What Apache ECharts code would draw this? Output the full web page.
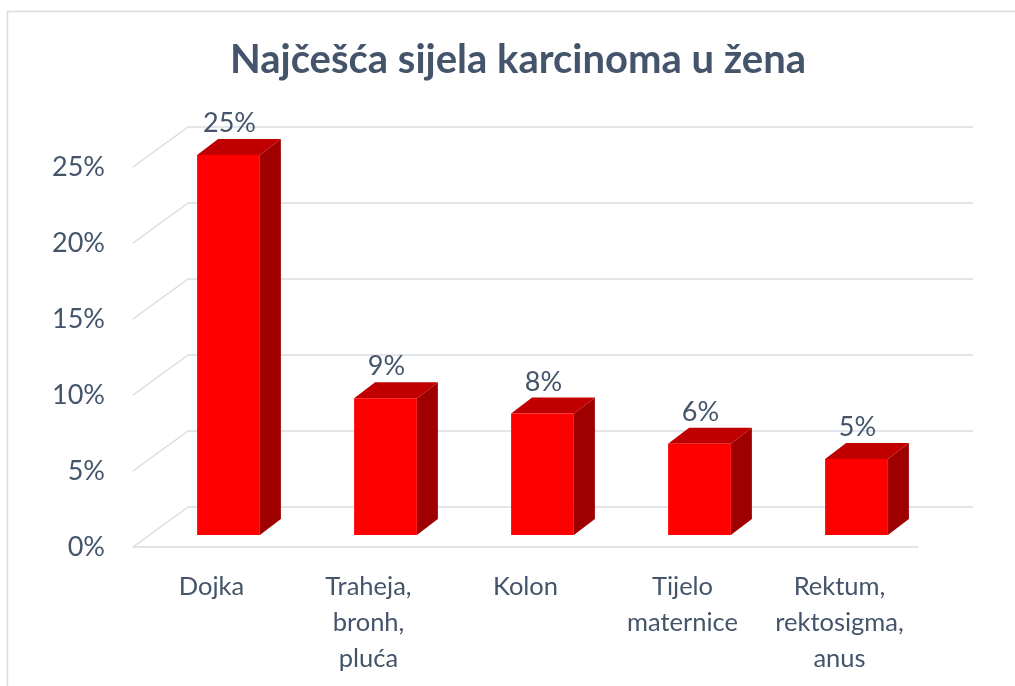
<!DOCTYPE html>
<html>
<head>
<meta charset="utf-8">
<script src="https://cdn.jsdelivr.net/npm/echarts@6/dist/echarts.min.js"></script>
<style>html,body{margin:0;padding:0;background:#fff}#c{width:1015px;height:686px}</style>
</head>
<body>
<div id="c"></div>
<script>
const title = 'Najčešća sijela karcinoma u žena';
const categories = ['Dojka', 'Traheja,\nbronh,\npluća', 'Kolon', 'Tijelo\nmaternice', 'Rektum,\nrektosigma,\nanus'];
const values = [25, 9, 8, 6, 5];
const yTicks = [0, 5, 10, 15, 20, 25];

const FONT = 'Lato, "Open Sans", sans-serif';
const TXT = '#44546A';
const GRID = '#D9DCE2';
// 3D offsets (style constants)
const WALL_DX = 55, WALL_DY = -40;   // front plane -> back wall
const BAR_DX = 17, BAR_DY = -12;     // front plane -> bar front face
const DEP_DX = 21, DEP_DY = -16;     // bar depth

const chart = echarts.init(document.getElementById('c'), null, {renderer: 'canvas'});
chart.setOption({
  animation: false,
  backgroundColor: '#fff',
  title: {
    text: title, left: 513, top: 35, textAlign: 'center',
    textStyle: {fontFamily: FONT, fontWeight: 'bold', fontSize: 40, color: TXT}
  },
  graphic: [{
    type: 'rect', shape: {x: 7.5, y: 11.5, width: 1020, height: 700}, silent: true,
    style: {fill: 'none', stroke: '#D9DCE2', lineWidth: 1.5}, z: -10
  }],
  grid: [
    {left: 133, right: 97, top: 167, bottom: 139},          // front plane
    {left: 133 + WALL_DX, right: 97 - WALL_DX, top: 167 + WALL_DY, bottom: 139 - WALL_DY} // back wall
  ],
  xAxis: [
    {type: 'category', gridIndex: 0, data: categories,
     axisLine: {show: true, lineStyle: {color: GRID, width: 1.5}},
     axisTick: {show: false},
     axisLabel: {interval: 0, margin: 22, fontFamily: FONT, fontSize: 25.5, color: TXT, lineHeight: 36}},
    {type: 'category', gridIndex: 1, data: categories, show: false}
  ],
  yAxis: [
    {type: 'value', gridIndex: 0, min: 0, max: 25, interval: 5,
     axisLine: {show: false}, axisTick: {show: false}, splitLine: {show: false},
     axisLabel: {margin: 28, fontFamily: FONT, fontSize: 27, color: TXT, formatter: v => v + '%'}},
    {type: 'value', gridIndex: 1, min: 0, max: 25, interval: 5,
     axisLine: {show: false}, axisTick: {show: false}, axisLabel: {show: false},
     splitLine: {show: true, lineStyle: {color: GRID, width: 1.5}}}
  ],
  series: [
    {
      type: 'custom', xAxisIndex: 0, yAxisIndex: 0, silent: true, z: 1,
      data: yTicks.map(v => [0, v]),
      renderItem: function (params, api) {
        const p = api.coord([0, api.value(1)]);
        const x0 = p[0] - api.size([1, 0])[0] / 2;
        return {type: 'line', shape: {x1: x0, y1: p[1], x2: x0 + WALL_DX, y2: p[1] + WALL_DY},
                style: {stroke: GRID, lineWidth: 1.5}};
      }
    },
    {
      type: 'custom', xAxisIndex: 0, yAxisIndex: 0, z: 5,
      data: values.map((v, i) => [i, v]),
      renderItem: function (params, api) {
        const i = api.value(0), v = api.value(1);
        const base = api.coord([i, 0]);
        const top = api.coord([i, v]);
        const w = api.size([1, 0])[0] * 0.4;
        const cx = base[0] + BAR_DX;
        const xl = cx - w / 2, xr = cx + w / 2;
        const yb = base[1] + BAR_DY, yt = top[1] + BAR_DY;
        return {type: 'group', children: [
          {type: 'polygon', shape: {points: [[xr, yt], [xr + DEP_DX, yt + DEP_DY], [xr + DEP_DX, yb + DEP_DY], [xr, yb]]},
           style: {fill: '#9E0000'}},
          {type: 'polygon', shape: {points: [[xl, yt], [xl + DEP_DX, yt + DEP_DY], [xr + DEP_DX, yt + DEP_DY], [xr, yt]]},
           style: {fill: '#C00000'}},
          {type: 'rect', shape: {x: xl, y: yt, width: w, height: yb - yt}, style: {fill: '#FF0000'}},
          {type: 'text', style: {text: v + '%', x: cx + 1, y: yt + DEP_DY - 2, align: 'center', verticalAlign: 'bottom',
            fontFamily: FONT, fontSize: 27, fill: TXT}}
        ]};
      }
    }
  ]
});
</script>
</body>
</html>
